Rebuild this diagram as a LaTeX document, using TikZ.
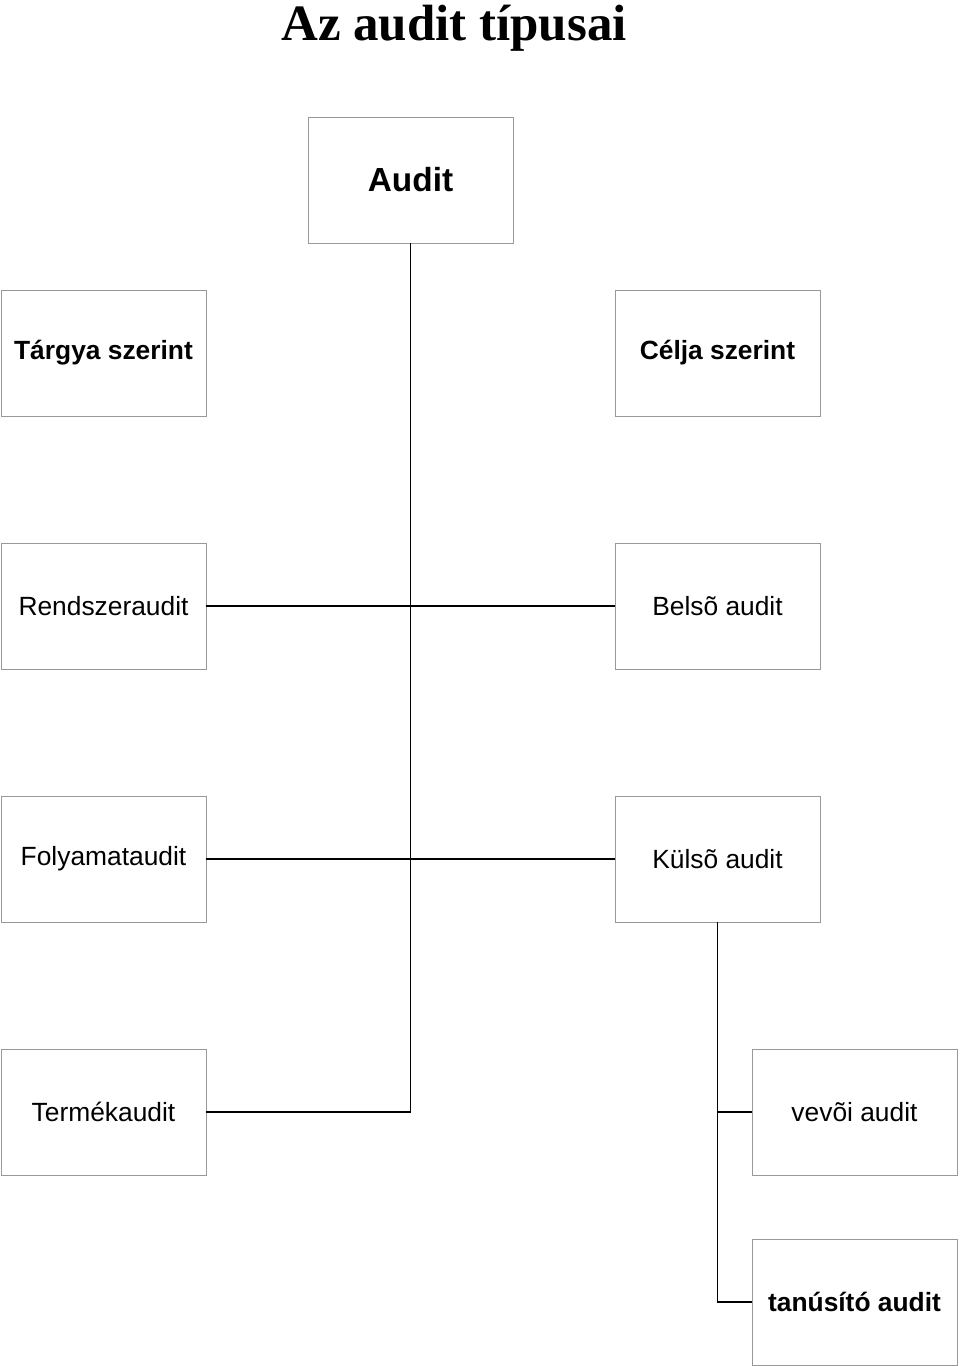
\documentclass[tikz,border=0pt]{standalone}
\usepackage{fontspec}
\setmainfont{Liberation Serif}
\setsansfont{Liberation Sans}
\begin{document}
\begin{tikzpicture}[doboz/.style={draw=gray!80, line width=0.5pt, fill=white,
                       minimum width=4.1cm, minimum height=2.52cm, outer sep=0pt,
                       font=\sffamily\fontsize{15}{18}\selectfont},
                    vastag/.style={font=\sffamily\bfseries\fontsize{15}{18}\selectfont},
                    vonal/.style={line width=1pt, black}]
\useasboundingbox (0,0) rectangle (19.2,-27.32);
\node[anchor=base, font=\bfseries\fontsize{29}{34}\selectfont] (cim) at (9.08,-0.8) {Az audit típusai};
\node[doboz, font=\sffamily\bfseries\fontsize{19}{22}\selectfont] (audit) at (8.21,-3.6) {Audit};
\node[doboz,vastag] (targya) at (2.07,-7.06) {Tárgya szerint};
\node[doboz,vastag] (celja) at (14.35,-7.06) {Célja szerint};
\foreach \n/\x/\y/\t in {rendszer/2.07/-12.12/Rendszeraudit, belso/14.35/-12.12/Belsõ audit,
                         folyamat/2.07/-17.18/Folyamataudit, kulso/14.35/-17.18/Külsõ audit,
                         termek/2.07/-22.24/Termékaudit, vevoi/17.09/-22.24/vevõi audit}
  \node[doboz] (\n) at (\x,\y) {\t};
\node[doboz,vastag] (tanusito) at (17.09,-26.04) {tanúsító audit};
% vonalak
\draw[vonal] (audit.south) |- (termek.east);
\draw[vonal] (rendszer.east) -- (belso.west);
\draw[vonal] (folyamat.east) -- (kulso.west);
\draw[vonal] (kulso.south) |- (tanusito.west);
\draw[vonal] (kulso.south |- vevoi.west) -- (vevoi.west);
\end{tikzpicture}
\end{document}
